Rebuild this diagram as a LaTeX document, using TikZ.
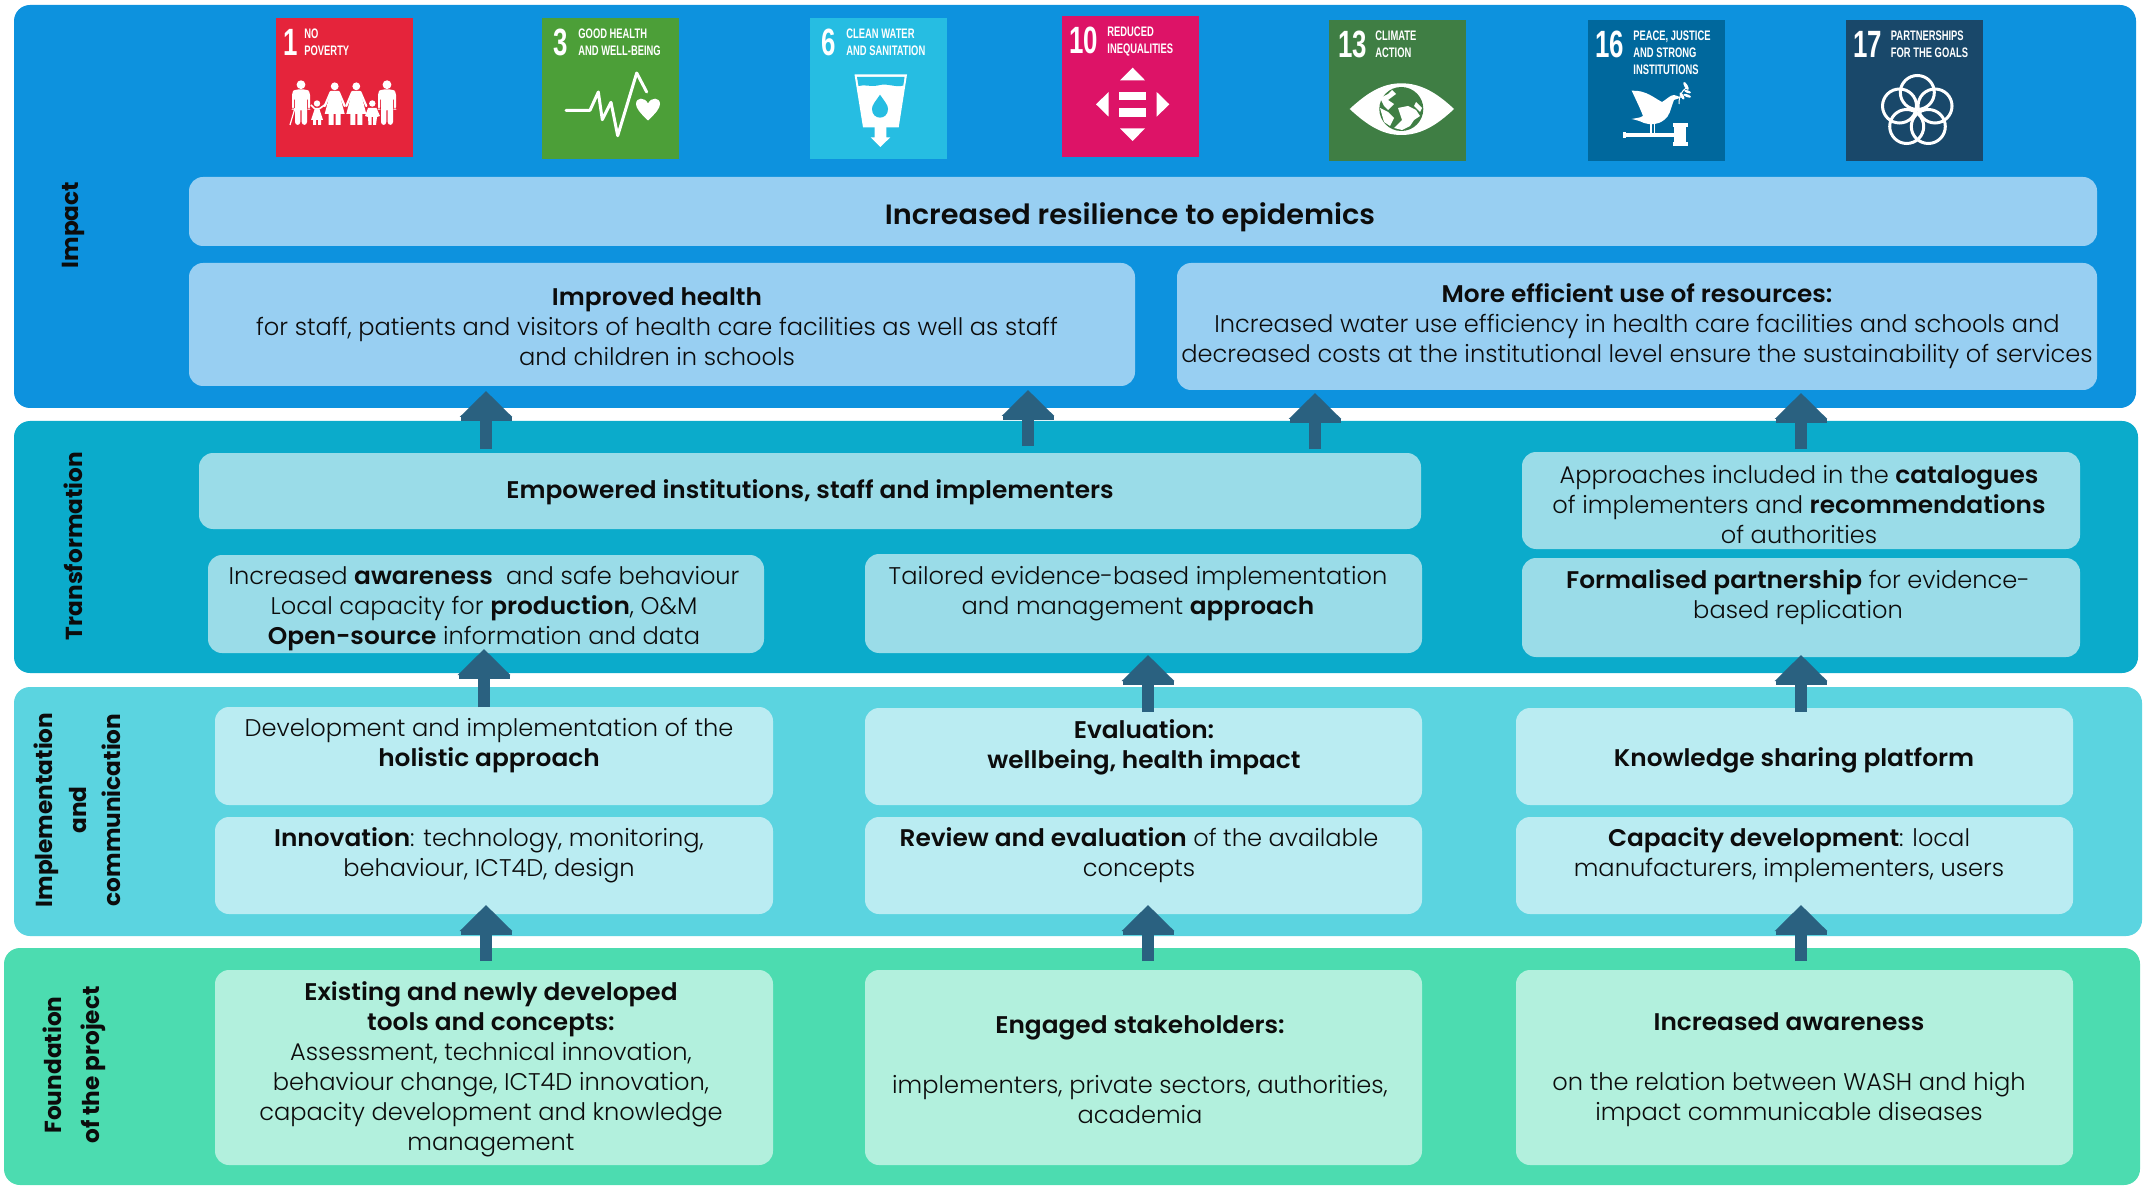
\documentclass[tikz,border=0pt]{standalone}
\usepackage{fontspec}
\setmainfont{Poppins Light}[BoldFont={Poppins SemiBold},BoldFeatures={FakeStretch=1.03}]
\newfontfamily\sidefont{Poppins Bold}
\newfontfamily\sdgnumfont{Liberation Sans Bold}[FakeStretch=0.68]
\newfontfamily\sdgtitlefont{Liberation Sans Bold}[FakeStretch=0.68]
\usetikzlibrary{arrows.meta}
\definecolor{impactband}{HTML}{0D92DE}
\definecolor{transband}{HTML}{0BABCB}
\definecolor{implband}{HTML}{5BD4E0}
\definecolor{foundband}{HTML}{4CDCB0}
\definecolor{impactbox}{HTML}{98CFF2}
\definecolor{transbox}{HTML}{9ADCE8}
\definecolor{implbox}{HTML}{BAECF2}
\definecolor{foundbox}{HTML}{B2F0DD}
\definecolor{arrowblue}{HTML}{2A6180}
\definecolor{inkc}{HTML}{0C0C0C}
\definecolor{sdgA}{HTML}{E5243B}
\definecolor{sdgB}{HTML}{4C9F38}
\definecolor{sdgC}{HTML}{26BDE2}
\definecolor{sdgD}{HTML}{DD1367}
\definecolor{sdgE}{HTML}{3F7E44}
\definecolor{sdgF}{HTML}{00689D}
\definecolor{sdgG}{HTML}{19486A}
\tikzset{
  x=0.5pt,y=-0.5pt,
  band/.style={rounded corners=8pt,inner sep=0pt,draw=none},
  card/.style={rounded corners=7pt,inner sep=0pt,draw=none},
  txt/.style={align=center,inner sep=0pt,yshift=-1.2pt,text=inkc,font=\fontsize{12.05pt}{15pt}\selectfont},
  vlabel/.style={align=center,inner sep=0pt,rotate=90,text=inkc,font=\sidefont\fontsize{11.6pt}{14pt}\selectfont},
  tile/.style={inner sep=0pt,draw=none,minimum width=68.5pt,minimum height=70.5pt},
  sdgnum/.style={inner sep=0pt,anchor=base west,text=white,font=\sdgnumfont\fontsize{19pt}{19pt}\selectfont},
  sdgtitle/.style={inner sep=0pt,anchor=base west,text=white,font=\sdgtitlefont\fontsize{6.9pt}{7pt}\selectfont},
  bigarrow/.style={draw=arrowblue,line width=6pt,-{Rectangle[length=2pt,width=25.5pt,fill=arrowblue]Triangle[length=13pt,width=25.5pt,fill=arrowblue]}},
  white stroke/.style={draw=white,line join=round,line cap=round,fill=none},
}
% name, x1,y1,x2,y2, fill
\newcommand{\rbox}[7][card]{%
  \pgfmathsetmacro{\bw}{(#5-#3)*0.5}\pgfmathsetmacro{\bh}{(#6-#4)*0.5}%
  \node[#1,fill=#7,minimum width=\bw pt,minimum height=\bh pt] (#2) at ({(#3+#5)/2},{(#4+#6)/2}) {};}
\newcommand{\man}[1]{%
  \fill[white] (#1,66.7) circle (4.4);
  \fill[white,rounded corners=1.5pt] ({#1-9},92) -- ({#1-9},74) -- ({#1-6},71.5) -- ({#1+6},71.5) -- ({#1+9},74) -- ({#1+9},92) -- ({#1+7},92) -- ({#1+7},79) -- ({#1+6},79) -- ({#1+6},107) -- ({#1+.7},107) -- ({#1+.7},90) -- ({#1-.7},90) -- ({#1-.7},107) -- ({#1-6},107) -- ({#1-6},79) -- ({#1-7},79) -- ({#1-7},92) -- cycle;}
\newcommand{\woman}[1]{%
  \fill[white] (#1,68.3) circle (3.9);
  \fill[white] ({#1-4},73) -- ({#1+4},73) -- ({#1+10},96) -- ({#1+6},96) -- ({#1+6},107) -- ({#1+1},107) -- ({#1+1},96) -- ({#1-1},96) -- ({#1-1},107) -- ({#1-6},107) -- ({#1-6},96) -- ({#1-10},96) -- cycle;
  \draw[white,line width=1.1pt,line cap=round] ({#1-4},74) -- ({#1-10},88);
  \draw[white,line width=1.1pt,line cap=round] ({#1+4},74) -- ({#1+10},88);}
\begin{document}
\begin{tikzpicture}
\useasboundingbox (0,0) rectangle (2146,1187);
% bands
\rbox[band]{bImpact}{14}{5}{2136}{408}{impactband}
\rbox[band]{bTrans}{14}{421}{2138}{673}{transband}
\rbox[band]{bImpl}{14}{687}{2142}{936}{implband}
\rbox[band]{bFound}{4}{948}{2140}{1185}{foundband}
% cards
\rbox{cResil}{189}{177}{2097}{246}{impactbox}
\rbox{cHealth}{189}{263}{1135}{386}{impactbox}
\rbox{cEffic}{1177}{263}{2097}{390}{impactbox}
\rbox{cEmpow}{199}{453}{1421}{529}{transbox}
\rbox{cCatal}{1522}{452}{2080}{549}{transbox}
\rbox{cAware}{208}{555}{764}{653}{transbox}
\rbox{cTailor}{865}{554}{1422}{653}{transbox}
\rbox{cPartner}{1522}{558}{2080}{657}{transbox}
\rbox{cDevel}{215}{707}{773}{805}{implbox}
\rbox{cEval}{865}{708}{1422}{805}{implbox}
\rbox{cPlatf}{1516}{708}{2073}{805}{implbox}
\rbox{cInnov}{215}{817}{773}{914}{implbox}
\rbox{cReview}{865}{817}{1422}{914}{implbox}
\rbox{cCapac}{1516}{817}{2073}{914}{implbox}
\rbox{cTools}{215}{970}{773}{1165}{foundbox}
\rbox{cStake}{865}{970}{1422}{1165}{foundbox}
\rbox{cAwareF}{1516}{970}{2073}{1165}{foundbox}
% card texts
\node[txt,font=\fontsize{13.95pt}{15pt}\selectfont] (tResil) at (1130,215) {\textbf{Increased resilience to epidemics}};
\node[txt] (tHealth) at (657,324) {\textbf{Improved health}\\for staff, patients and visitors of health care facilities as well as staff\\and children in schools};
\node[txt] (tEffic) at (1637,324) {\textbf{More efficient use of resources:}\\Increased water use efficiency in health care facilities and schools and\\decreased costs at the institutional level ensure the sustainability of services};
\node[txt] (tEmpow) at (810,490) {\textbf{Empowered institutions, staff and implementers}};
\node[txt] (tCatal) at (1799,502) {Approaches included in the \textbf{catalogues}\\of implementers and \textbf{recommendations}\\of authorities};
\node[txt] (tAware) at (484,606) {Increased \textbf{awareness}\ \ and safe behaviour\\Local capacity for \textbf{production}, O\&M\\\textbf{Open-source} information and data};
\node[txt] (tTailor) at (1138,591) {Tailored evidence-based implementation\\and management \textbf{approach}};
\node[txt] (tPartner) at (1798,595) {\textbf{Formalised partnership} for evidence-\\based replication};
\node[txt] (tDevel) at (489,743) {Development and implementation of the\\\textbf{holistic approach}};
\node[txt] (tEval) at (1144,745) {\textbf{Evaluation:}\\\textbf{wellbeing, health impact}};
\node[txt] (tPlatf) at (1794,758) {\textbf{Knowledge sharing platform}};
\node[txt] (tInnov) at (489,853) {\textbf{Innovation}: technology, monitoring,\\behaviour, ICT4D, design};
\node[txt] (tReview) at (1139,853) {\textbf{Review and evaluation} of the available\\concepts};
\node[txt] (tCapac) at (1789,853) {\textbf{Capacity development}: local\\manufacturers, implementers, users};
\node[txt] (tTools) at (491,1067) {\textbf{Existing and newly developed}\\\textbf{tools and concepts:}\\Assessment, technical innovation,\\behaviour change, ICT4D innovation,\\capacity development and knowledge\\management};
\node[txt] (tStake) at (1140,1067) {\textbf{Engaged stakeholders:}\\[15pt]implementers, private sectors, authorities,\\academia};
\node[txt] (tAwareF) at (1789,1067) {\textbf{Increased awareness}\\[15pt]on the relation between WASH and high\\impact communicable diseases};
% side labels
\node[vlabel] (lImpact) at (73,225) {Impact};
\node[vlabel] (lTrans) at (73,546) {Transformation};
\node[vlabel] (lImpl) at (77,810) {Implementation\\[3pt]and\\[3pt]communication};
\node[vlabel] (lFound) at (74,1065) {Foundation\\[5pt]of the project};
% tiles
\node[tile,fill=sdgA,minimum height=69.5pt] (sA) at (344.5,87.5) {};
\node[tile,fill=sdgB] (sB) at (610.5,88.5) {};
\node[tile,fill=sdgC] (sC) at (878.5,88.5) {};
\node[tile,fill=sdgD] (sD) at (1130.5,86.5) {};
\node[tile,fill=sdgE] (sE) at (1397.5,90.5) {};
\node[tile,fill=sdgF] (sF) at (1656.5,90.5) {};
\node[tile,fill=sdgG] (sG) at (1914.5,90.5) {};
% SDG 1
\begin{scope}[shift={(276,18)}]
\node[sdgnum] (nA) at (7,38) {1};
\node[sdgtitle] (tA1) at (28,21) {NO};
\node[sdgtitle] (tA2) at (28,38) {POVERTY};
\man{25}\man{111}
\draw[white,line width=.6pt] (19,90) -- (14,107);
\woman{58.7}\woman{80.3}
\fill[white] (41,85.5) circle (3.2);
\fill[white] (39,90) -- (43,90) -- (47,102) -- (45,102) -- (45,107) -- (42,107) -- (42,102) -- (40,102) -- (40,107) -- (37,107) -- (37,102) -- (35,102) -- cycle;
\draw[white,line width=.8pt] (39,91) -- (35,87) (43,91) -- (50,86);
\fill[white] (96.3,85.5) circle (3.2);
\fill[white] (92,90) -- (100.5,90) -- (104,98) -- (101,99) -- (100,107) -- (97,107) -- (97,99) -- (95.5,99) -- (95.5,107) -- (92.5,107) -- (92,99) -- (89,98) -- cycle;
\end{scope}
% SDG 3
\begin{scope}[shift={(540,18)}]
\node[sdgnum] (nB) at (13,38) {3};
\node[sdgtitle] (tB1) at (38,21) {GOOD HEALTH};
\node[sdgtitle] (tB2) at (38,38) {AND WELL-BEING};
\draw[white stroke,line width=1.5pt] (26,92.3) -- (50,92.3) -- (58.3,74) -- (62.3,101.7) -- (71,84.3) -- (77.7,117.7) -- (96.7,55) -- (106.7,74);
\fill[white] (108,102.5) .. controls (100,95) and (96,90) .. (96,86) .. controls (96,79) and (105,79) .. (108,85.5) .. controls (111,79) and (120,79) .. (120,86) .. controls (120,90) and (116,95) .. (108,102.5) -- cycle;
\end{scope}
% SDG 6
\begin{scope}[shift={(808,18)}]
\node[sdgnum] (nC) at (13,38) {6};
\node[sdgtitle] (tC1) at (38,21) {CLEAN WATER};
\node[sdgtitle] (tC2) at (38,38) {AND SANITATION};
\fill[white] (46.5,56.5) -- (99,56.5) -- (90.7,109.3) -- (55,109.3) -- cycle;
\fill[sdgC] (49,59) -- (96.5,59) -- (95.3,67.5) .. controls (87,70) and (80,65) .. (72,67) .. controls (63,69.5) and (57,66) .. (50.5,68) -- cycle;
\fill[sdgC] (72,76.7) .. controls (67,84) and (64,87) .. (64,91) .. controls (64,102.5) and (80,102.5) .. (80,91) .. controls (80,87) and (77,84) .. (72,76.7) -- cycle;
\fill[white] (66.7,109) -- (78.3,109) -- (78.3,119.3) -- (82.3,119.3) -- (72.3,129) -- (62.7,119.3) -- (66.7,119.3) -- cycle;
\end{scope}
% SDG 10
\begin{scope}[shift={(1060,16)}]
\node[sdgnum] (nD) at (9,38) {10};
\node[sdgtitle] (tD1) at (47,21) {REDUCED};
\node[sdgtitle] (tD2) at (47,38) {INEQUALITIES};
\fill[white] (60,64.3) -- (85,64.3) -- (72.7,51.7) -- cycle;
\fill[white] (60,112.3) -- (85,112.3) -- (72.7,125) -- cycle;
\fill[white] (48.7,76) -- (48.7,100.7) -- (36,88.3) -- cycle;
\fill[white] (96.7,76) -- (96.7,100.7) -- (109.3,88.3) -- cycle;
\fill[white] (59.3,76) rectangle (86,84);
\fill[white] (59.3,92.3) rectangle (86,100.7);
\end{scope}
% SDG 13
\begin{scope}[shift={(1328,20)}]
\node[sdgnum] (nE) at (10,38) {13};
\node[sdgtitle] (tE1) at (47,21) {CLIMATE};
\node[sdgtitle] (tE2) at (47,38) {ACTION};
\fill[white] (21.7,89) .. controls (40,72) and (55,63.3) .. (73.3,63.3) .. controls (92,63.3) and (108,72) .. (126,89) .. controls (108,106) and (92,115) .. (73.3,115) .. controls (55,115) and (40,106) .. (21.7,89) -- cycle;
\fill[sdgE] (73.3,89) circle (22);
\fill[white] (52,78) -- (60,74) -- (64,70) -- (68,74) -- (60,80) -- (66,84) -- (60,90) -- (56,86) -- cycle;
\fill[white] (52,88) -- (60,92) -- (66,98) -- (62,106) -- (56,102) -- cycle;
\fill[white] (70,88) -- (80,86) -- (88,90) -- (92,96) -- (86,100) -- (82,106) -- (74,110) -- (66,108) -- (74,100) -- cycle;
\fill[white] (88,82) -- (94,88) -- (92,92) -- (86,86) -- cycle;
\end{scope}
% SDG 16
\begin{scope}[shift={(1586,20)}]
\node[sdgnum] (nF) at (9,38) {16};
\node[sdgtitle] (tF1) at (47,21) {PEACE, JUSTICE};
\node[sdgtitle] (tF2) at (47,38) {AND STRONG};
\node[sdgtitle] (tF3) at (47,55) {INSTITUTIONS};
\fill[white] (45.7,70.7) .. controls (60,70) and (68,78) .. (76,82) .. controls (80,80) and (84,75) .. (88,75) .. controls (91,75) and (92,77) .. (95,77.5) -- (88,80) .. controls (84,90) and (84,96) .. (78,100) .. controls (72,105) and (64,105) .. (58,103) .. controls (54,101) and (50,100) .. (45.7,99) .. controls (50,98) and (54,98) .. (57,96) .. controls (54,88) and (50,80) .. (45.7,70.7) -- cycle;
\draw[white,line width=.9pt] (65,104) -- (65,113) (68.5,104) -- (68.5,113);
\draw[white,line width=.5pt] (93,84) .. controls (93,76) and (95,72) .. (100,68);
\fill[white,rotate around={-60:(96,76)}] (96,76) ellipse (4 and 1.6);
\fill[white,rotate around={-20:(99,76)}] (101,75) ellipse (4 and 1.4);
\fill[white,rotate around={-60:(100,66)}] (100,66) ellipse (4.5 and 1.7);
\fill[white,rotate around={-20:(100,70)}] (102,71) ellipse (3.5 and 1.3);
\fill[white] (37,112) rectangle (40,118);
\fill[white] (40,113) rectangle (88,116.7);
\fill[white] (88,106) rectangle (100,123);
\fill[white] (86.5,103.3) rectangle (101.7,107.3);
\fill[white] (86.5,121.7) rectangle (101.7,125.7);
\end{scope}
% SDG 17
\begin{scope}[shift={(1845,20)}]
\node[sdgnum] (nG) at (8,38) {17};
\node[sdgtitle] (tG1) at (45.5,21) {PARTNERSHIPS};
\node[sdgtitle] (tG2) at (45.5,38) {FOR THE GOALS};
\foreach \cx/\cy in {72.3/72.5,54.5/86,90/86,61.7/106.5,83.3/106.5}
  \draw[white,line width=1.5pt] (\cx,\cy) circle (17);
\end{scope}
% block arrows
\coordinate (a1s) at (486,449); \coordinate (a1e) at (486,391);
\coordinate (a2s) at (1028,446); \coordinate (a2e) at (1028,390);
\coordinate (a3s) at (1315,449); \coordinate (a3e) at (1315,393);
\coordinate (a4s) at (1801,449); \coordinate (a4e) at (1801,393);
\coordinate (a5s) at (484,707); \coordinate (a5e) at (484,649);
\coordinate (a6s) at (1148,712); \coordinate (a6e) at (1148,655);
\coordinate (a7s) at (1801,712); \coordinate (a7e) at (1801,655);
\coordinate (a8s) at (486,961); \coordinate (a8e) at (486,905);
\coordinate (a9s) at (1148,961); \coordinate (a9e) at (1148,905);
\coordinate (a10s) at (1801,961); \coordinate (a10e) at (1801,905);
\foreach \k in {1,...,10} \draw[bigarrow] (a\k s) -- (a\k e);
\end{tikzpicture}
\end{document}
